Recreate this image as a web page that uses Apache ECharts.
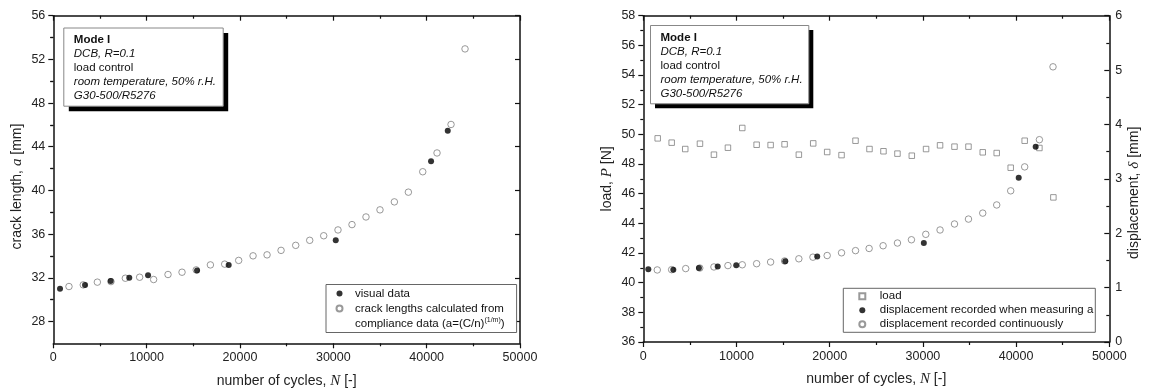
<!DOCTYPE html>
<html>
<head>
<meta charset="utf-8">
<script src="https://cdn.jsdelivr.net/npm/echarts@6/dist/echarts.min.js"></script>
<style>
  html, body { margin: 0; padding: 0; background: #fff; }
  #chart { width: 1149px; height: 391px; }
</style>
</head>
<body>
<div id="chart"></div>
<script>
// left panel: crack length vs cycles
const visualN = [720, 3400, 6150, 8140, 10150, 15400, 18790, 30260, 40470, 42260];
const visualA = [31.0, 31.35, 31.7, 32.0, 32.24, 32.67, 33.16, 35.43, 42.66, 45.46];
const complianceN = [1680, 3210, 4720, 6180, 7720, 9250, 10750, 12290, 13790, 15310, 16830, 18360, 19860, 21400,
  22900, 24400, 25970, 27470, 28970, 30500, 32000, 33500, 35000, 36540, 38040, 39580, 41110, 42610, 44110];
const complianceA = [31.2, 31.35, 31.6, 31.65, 31.96, 32.05, 31.84, 32.3, 32.51, 32.72, 33.18, 33.25, 33.59, 34.01,
  34.1, 34.51, 34.97, 35.43, 35.85, 36.38, 36.87, 37.57, 38.22, 38.95, 39.84, 41.71, 43.43, 46.04, 52.96];

// right panel: load and displacement vs cycles
const loadN = [1545, 3045, 4500, 6080, 7580, 9080, 10620, 12160, 13660, 15160, 16690, 18230, 19730, 21270, 22770,
  24270, 25770, 27270, 28810, 30340, 31840, 33390, 34890, 36420, 37920, 39420, 40920, 42500, 44000];
const loadP = [49.73, 49.44, 49.01, 49.37, 48.63, 49.1, 50.43, 49.3, 49.28, 49.33, 48.63, 49.39, 48.81, 48.6, 49.57,
  49.01, 48.86, 48.7, 48.56, 49.01, 49.26, 49.17, 49.17, 48.79, 48.74, 47.75, 49.57, 49.08, 45.75];
const dispMeasN = [540, 3220, 5970, 7980, 9970, 15230, 18660, 30100, 40280, 42100];
const dispMeasD = [1.34, 1.33, 1.36, 1.39, 1.41, 1.485, 1.57, 1.82, 3.02, 3.59];
const dispContN = [1500, 3040, 4550, 6060, 7580, 9080, 10620, 12160, 13660, 15160, 16690, 18200, 19730, 21270, 22770,
  24230, 25730, 27270, 28770, 30310, 31840, 33390, 34890, 36420, 37920, 39420, 40920, 42500, 43960];
const dispContD = [1.325, 1.33, 1.35, 1.36, 1.38, 1.405, 1.42, 1.44, 1.47, 1.49, 1.53, 1.56, 1.59, 1.64, 1.68,
  1.72, 1.77, 1.82, 1.88, 1.98, 2.06, 2.17, 2.26, 2.37, 2.52, 2.78, 3.22, 3.72, 5.06];

// ticks for the crack length axis (starts at 26, labels on multiples of 4)
const crackTicks = [28, 32, 36, 40, 44, 48, 52, 56];
const crackMinorTicks = [30, 34, 38, 42, 46, 50, 54];

// text in the boxes
const noteLines = ['Mode I', 'DCB, R=0.1', 'load control', 'room temperature, 50% r.H.', 'G30-500/R5276'];

const zip = (xs, ys) => xs.map((x, i) => [x, ys[i]]);

const FONT = 'Liberation Sans, Arial, sans-serif';
const ink = '#111';
const axisLine = { show: true, onZero: false, lineStyle: { color: ink, width: 1.5 } };
const tickLine = { color: ink, width: 1.2 };
const labelStyle = { color: '#222', fontSize: 12.5, fontFamily: FONT };
const nameStyle = {
  color: '#222', fontSize: 14, fontFamily: FONT,
  rich: { i: { fontFamily: 'Liberation Serif, serif', fontStyle: 'italic', fontSize: 15, color: '#222' } }
};
const squareIcon = 'path://M0,0H10V10H0Z';

function cyclesAxis(gridIndex, bottom) {
  return {
    type: 'value', gridIndex, position: bottom ? 'bottom' : 'top',
    min: 0, max: 50000, interval: 10000,
    axisLine,
    axisTick: { show: true, inside: !bottom, length: 5, lineStyle: tickLine },
    minorTick: { show: true, splitNumber: 2, length: 3, lineStyle: tickLine },
    axisLabel: Object.assign({ show: bottom, margin: 8, formatter: v => String(v) }, labelStyle),
    splitLine: { show: false },
    name: bottom ? 'number of cycles, {i|N} [-]' : '',
    nameLocation: 'middle', nameGap: 30, nameTextStyle: nameStyle
  };
}

function crackAxis(position, ticks, len, opts) {
  return Object.assign({
    type: 'value', gridIndex: 0, position, min: 26, max: 56,
    axisLine: { show: false },
    axisTick: { show: true, inside: position === 'right', length: len, customValues: ticks, lineStyle: tickLine },
    axisLabel: { show: false },
    splitLine: { show: false }
  }, opts || {});
}

const chart = echarts.init(document.getElementById('chart'), null, { renderer: 'canvas' });

function noteBox(x, y, w, h, sh) {
  const base = { fontFamily: FONT, fontSize: 11.5, lineHeight: 14, fill: '#111' };
  return {
    type: 'group', left: x, top: y, silent: true,
    children: [
      { type: 'rect', shape: { x: sh, y: sh, width: w, height: h }, style: { fill: '#000' } },
      { type: 'rect', shape: { x: 0, y: 0, width: w, height: h }, style: { fill: '#fff', stroke: '#888', lineWidth: 1 } },
      {
        type: 'text', x: 10, y: 5,
        style: {
          text: '{b|' + noteLines[0] + '}\n{i|' + noteLines[1] + '}\n{n|' + noteLines[2] + '}\n{i|' +
            noteLines[3] + '}\n{i|' + noteLines[4] + '}',
          rich: {
            b: Object.assign({ fontWeight: 'bold' }, base),
            i: Object.assign({ fontStyle: 'italic' }, base),
            n: base
          }
        }
      }
    ]
  };
}

const legendText = { fontFamily: FONT, fontSize: 11.5, color: '#111', lineHeight: 14 };

const option = {
  animation: false,
  backgroundColor: '#fff',
  textStyle: { fontFamily: FONT },
  grid: [
    { left: 53.3, right: 629, top: 15.7, bottom: 47.7, outerBoundsMode: 'none', containLabel: false },
    { left: 643.3, right: 39.7, top: 15.7, bottom: 49, outerBoundsMode: 'none', containLabel: false }
  ],
  xAxis: [cyclesAxis(0, true), cyclesAxis(0, false), cyclesAxis(1, true), cyclesAxis(1, false)],
  yAxis: [
    crackAxis('left', crackTicks, 5, {
      axisLine,
      axisLabel: Object.assign({ show: true, margin: 8, customValues: crackTicks }, labelStyle),
      name: 'crack length, {i|a} [mm]', nameLocation: 'middle', nameGap: 29,
      nameTextStyle: Object.assign({ padding: [0, 14, 0, 0] }, nameStyle)
    }),
    crackAxis('left', crackMinorTicks, 3),
    crackAxis('right', crackTicks, 5, { axisLine }),
    crackAxis('right', crackMinorTicks, 3),
    {
      type: 'value', gridIndex: 1, position: 'left', min: 36, max: 58, interval: 2,
      axisLine,
      axisTick: { show: true, inside: false, length: 5, lineStyle: tickLine },
      minorTick: { show: true, splitNumber: 2, length: 3, lineStyle: tickLine },
      axisLabel: Object.assign({ margin: 8 }, labelStyle),
      splitLine: { show: false },
      name: 'load, {i|P} [N]', nameLocation: 'middle', nameGap: 29, nameTextStyle: nameStyle
    },
    {
      type: 'value', gridIndex: 1, position: 'right', min: 0, max: 6, interval: 1,
      axisLine,
      axisTick: { show: true, inside: true, length: 5, lineStyle: tickLine },
      minorTick: { show: true, splitNumber: 2, length: 3, lineStyle: tickLine },
      axisLabel: Object.assign({ margin: 6 }, labelStyle),
      splitLine: { show: false },
      name: 'displacement, {i|δ} [mm]', nameLocation: 'middle', nameGap: 15,
      nameTextStyle: Object.assign({ padding: [0, 28, 0, 0] }, nameStyle)
    }
  ],
  legend: [
    {
      left: 326, top: 284.5, orient: 'vertical', selectedMode: false,
      padding: [2, 12, 2, 3], itemGap: 1, itemWidth: 21, itemHeight: 6,
      borderColor: '#666', borderWidth: 1, backgroundColor: '#fff',
      textStyle: Object.assign({
        rich: { sup: { fontFamily: FONT, fontSize: 7, color: '#111', verticalAlign: 'top', lineHeight: 9 } }
      }, legendText),
      formatter: name => name === 'compliance data' ? 'compliance data (a=(C/n){sup|(1/m)})' : name,
      data: [
        { name: 'visual data' },
        { name: 'crack lengths calculated from' },
        { name: 'compliance data', icon: 'none' }
      ]
    },
    {
      left: 843.3, top: 288.3, orient: 'vertical', selectedMode: false,
      padding: [1, 2, 1, 15], itemGap: 0, itemWidth: 25, itemHeight: 6,
      borderColor: '#666', borderWidth: 1, backgroundColor: '#fff',
      textStyle: legendText,
      data: [
        { name: 'load', icon: squareIcon },
        { name: 'displacement recorded when measuring a' },
        { name: 'displacement recorded continuously' }
      ]
    }
  ],
  graphic: [noteBox(63.3, 27.5, 159.4, 78.2, 5), noteBox(650, 25, 158.3, 78.3, 4.5)],
  series: [
    {
      name: 'crack lengths calculated from', type: 'scatter', xAxisIndex: 0, yAxisIndex: 0,
      symbol: 'circle', symbolSize: 6.5,
      itemStyle: { color: '#fff', borderColor: '#808080', borderWidth: 1 },
      data: zip(complianceN, complianceA)
    },
    {
      name: 'visual data', type: 'scatter', xAxisIndex: 0, yAxisIndex: 0,
      symbol: 'circle', symbolSize: 6,
      itemStyle: { color: '#000' },
      data: zip(visualN, visualA)
    },
    { name: 'compliance data', type: 'scatter', xAxisIndex: 0, yAxisIndex: 0, data: [] },
    {
      name: 'load', type: 'scatter', xAxisIndex: 2, yAxisIndex: 4,
      symbol: 'rect', symbolSize: 5.5,
      itemStyle: { color: '#fff', borderColor: '#808080', borderWidth: 1 },
      data: zip(loadN, loadP)
    },
    {
      name: 'displacement recorded continuously', type: 'scatter', xAxisIndex: 2, yAxisIndex: 5,
      symbol: 'circle', symbolSize: 6.5,
      itemStyle: { color: '#fff', borderColor: '#808080', borderWidth: 1 },
      data: zip(dispContN, dispContD)
    },
    {
      name: 'displacement recorded when measuring a', type: 'scatter', xAxisIndex: 2, yAxisIndex: 5,
      symbol: 'circle', symbolSize: 6,
      itemStyle: { color: '#000' },
      data: zip(dispMeasN, dispMeasD)
    }
  ]
};

chart.setOption(option);
window.addEventListener('resize', () => chart.resize());
</script>
</body>
</html>
